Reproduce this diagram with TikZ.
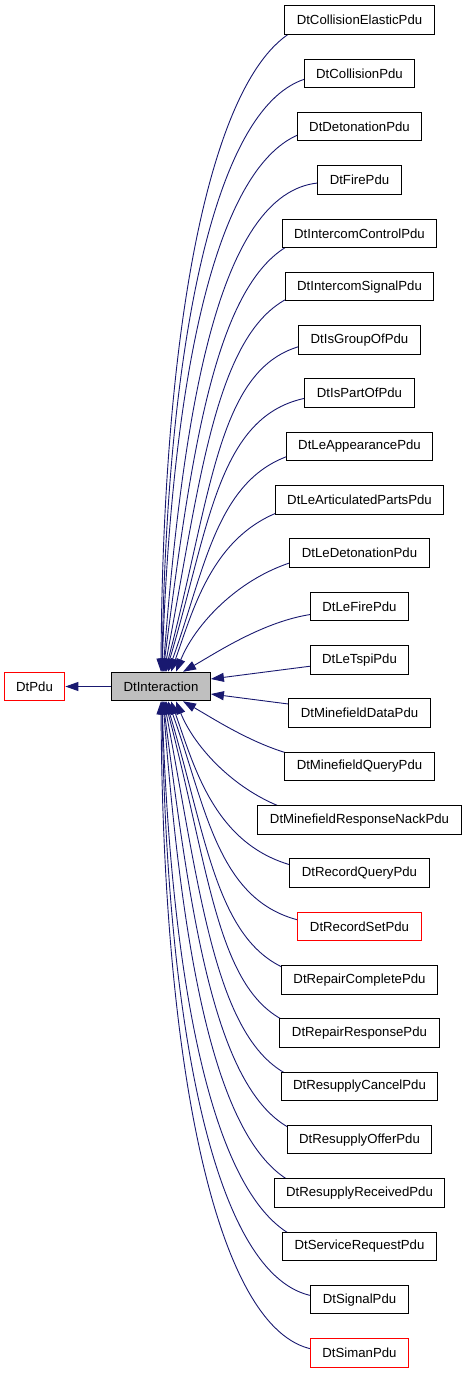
\documentclass[tikz,border=0pt]{standalone}
\usepackage{fontspec}
\setmainfont{Liberation Sans}
\usetikzlibrary{arrows.meta,calc,backgrounds}
\definecolor{edgeblue}{HTML}{191970}
\definecolor{boxgray}{HTML}{BFBFBF}
\tikzset{
  cls/.style={draw=black, line width=1pt, minimum height=28.5pt, inner xsep=12pt, inner ysep=0pt,
    font=\fontsize{13.2}{15}\selectfont, fill=white},
  redcls/.style={cls, draw=red},
  edge/.style={draw=edgeblue, line width=0.9pt, -{Triangle[length=13pt,width=9pt]}},
}
\begin{document}
\begin{tikzpicture}[x=1pt,y=1pt]
\useasboundingbox (0,0) rectangle (467,-1373);
\node[redcls] (pdu) at (34.5,-686.5) {DtPdu};
\node[cls, fill=boxgray, minimum width=98pt] (P) at (161,-686.5) {DtInteraction};
\foreach \i/\name/\st in {
  0/DtCollisionElasticPdu/cls, 1/DtCollisionPdu/cls, 2/DtDetonationPdu/cls,
  3/DtFirePdu/cls, 4/DtIntercomControlPdu/cls, 5/DtIntercomSignalPdu/cls,
  6/DtIsGroupOfPdu/cls, 7/DtIsPartOfPdu/cls, 8/DtLeAppearancePdu/cls,
  9/DtLeArticulatedPartsPdu/cls, 10/DtLeDetonationPdu/cls, 11/DtLeFirePdu/cls,
  12/DtLeTspiPdu/cls, 13/DtMinefieldDataPdu/cls, 14/DtMinefieldQueryPdu/cls,
  15/DtMinefieldResponseNackPdu/cls, 16/DtRecordQueryPdu/cls, 17/DtRecordSetPdu/redcls,
  18/DtRepairCompletePdu/cls, 19/DtRepairResponsePdu/cls, 20/DtResupplyCancelPdu/cls,
  21/DtResupplyOfferPdu/cls, 22/DtResupplyReceivedPdu/cls, 23/DtServiceRequestPdu/cls,
  24/DtSignalPdu/cls, 25/DtSimanPdu/redcls} {
  \node[\st] (c\i) at (359.5,{-(20+53.32*\i)}) {\name};
}
\draw[edge] (P.west) -- (pdu.east);
\begin{scope}[on background layer]
% upper group: i / start offset / control 1 (a,b) / control 2 (h,v) / tip x
\foreach \i/\d/\ca/\cb/\h/\v/\ex in {
  0/3/100/10/2/372/161, 1/3/100/10/5/340/162, 2/3/100/10/10/300/162,
  3/3/100/10/20/260/163, 4/3/100/10/30/230/163, 5/3/100/10/40/210/164,
  6/3/100/10/50/190/165, 7/3/100/10/45/150/166, 8/3/100/10/40/110/168,
  9/3/100/10/25/70/171, 10/3/70/10/20/50/176, 11/7/50/5/35/20/183} {
  \draw[edge] ($(c\i.center)+(-41.5,-\d)$) .. controls +(-\ca,-\cb) and +(\h,\v) .. ($(P.north)+(\ex-161,0)$);
}
% lower group (mirror)
\foreach \i/\d/\ca/\cb/\h/\v/\ex in {
  25/3/100/10/2/372/161, 24/3/100/10/5/340/162, 23/3/100/10/10/300/162,
  22/3/100/10/20/260/163, 21/3/100/10/30/230/163, 20/3/100/10/40/210/164,
  19/3/100/10/50/190/165, 18/3/100/10/45/150/166, 17/3/100/10/40/110/168,
  16/3/100/10/25/70/171, 15/3/70/10/20/50/176, 14/7/50/5/35/20/183} {
  \draw[edge] ($(c\i.center)+(-41.5,\d)$) .. controls +(-\ca,\cb) and +(\h,-\v) .. ($(P.south)+(\ex-161,0)$);
}
% middle rows
\draw[edge] (c12.center) -- ($(P.east)+(0,7.5)$);
\draw[edge] (c13.center) -- ($(P.east)+(0,-7.5)$);
\end{scope}
\end{tikzpicture}
\end{document}
